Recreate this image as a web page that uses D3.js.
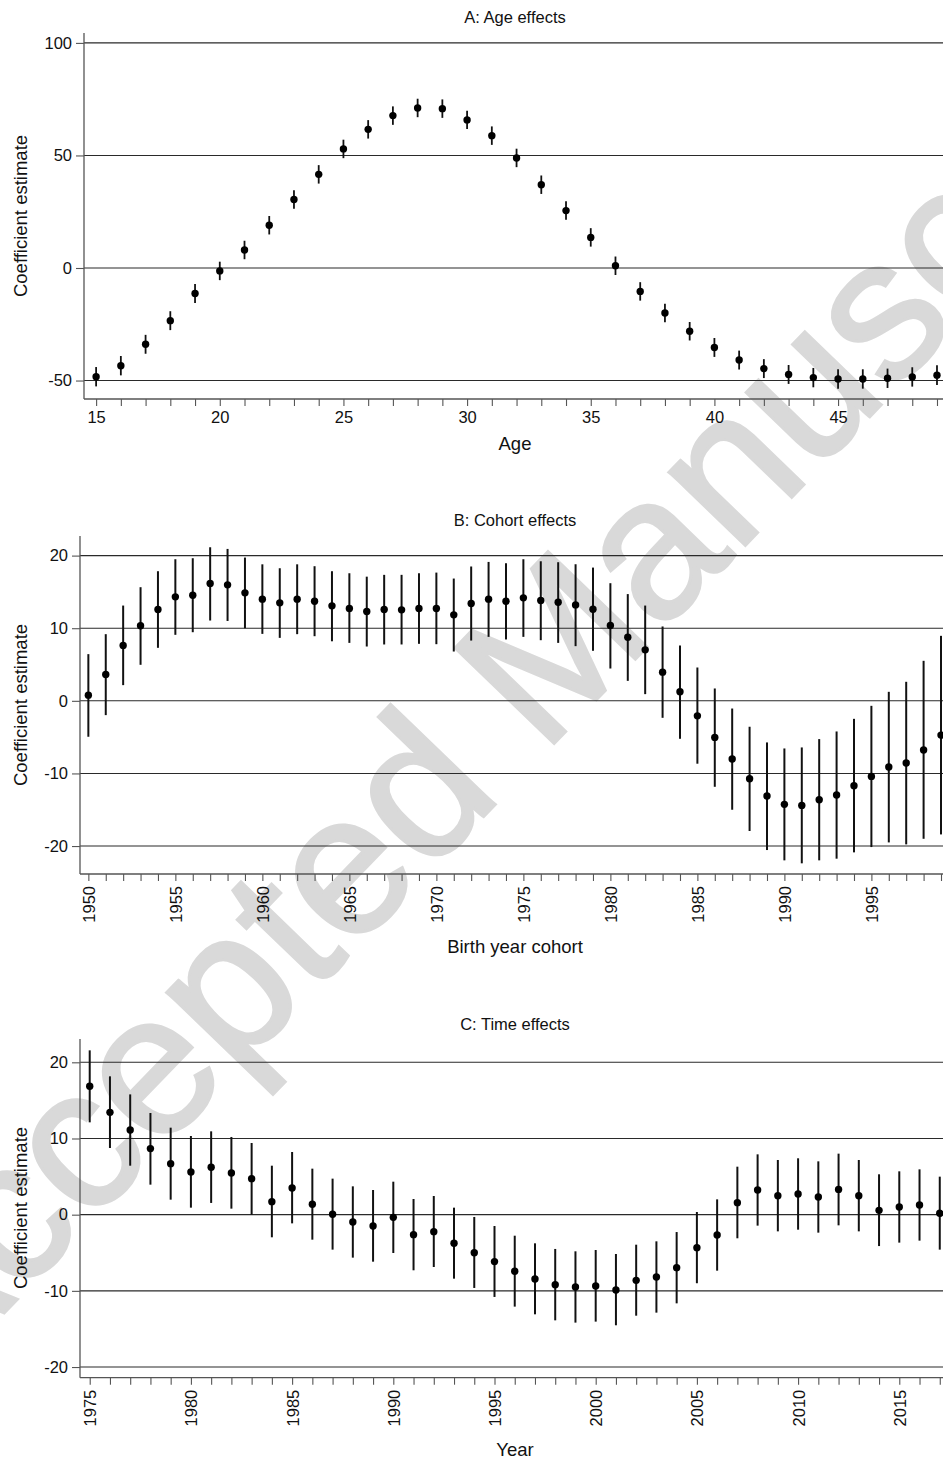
<!DOCTYPE html>
<html><head><meta charset="utf-8">
<script src="https://cdn.jsdelivr.net/npm/d3@7"></script>
<style>body{margin:0;background:#fff}svg{display:block}</style>
</head><body><svg id="chart" width="943" height="1459"></svg>
<script>
// ---------- DATA ----------
const ageCats = [15,16,17,18,19,20,21,22,23,24,25,26,27,28,29,30,31,32,33,34,35,36,37,38,39,40,41,42,43,44,45,46,47,48,49];
const ageEst = [-48.3,-43.4,-33.9,-23.4,-11.3,-1.3,8.0,19.0,30.4,41.6,52.9,61.6,67.7,71.1,70.8,65.8,
  58.8,48.9,37.0,25.5,13.6,1.0,-10.4,-20.0,-28.1,-35.3,-40.9,-44.7,-47.3,-48.7,-49.3,-49.3,-49.0,-48.4,-47.6];
const ageHalf = [4.3,4.3,4.2,4.2,4.2,4.1,4.1,4.1,4.1,4.1,4.1,4.1,4.1,4.1,4.1,4.1,4.1,4.1,4.1,4.1,4.1,4.1,4.1,4.1,4.1,4.2,4.2,4.2,4.2,4.3,4.3,4.3,4.3,4.3,4.4];
const ageLo = ageEst.map((v,i)=>v-ageHalf[i]);
const ageHi = ageEst.map((v,i)=>v+ageHalf[i]);

const cohortCats = [1950,1951,1952,1953,1954,1955,1956,1957,1958,1959,1960,1961,1962,1963,1964,1965,1966,1967,1968,1969,
  1970,1971,1972,1973,1974,1975,1976,1977,1978,1979,1980,1981,1982,1983,1984,1985,1986,1987,1988,1989,
  1990,1991,1992,1993,1994,1995,1996,1997,1998,1999];
const cohortEst = [0.78,3.63,7.62,10.33,12.57,14.32,14.55,16.15,15.97,14.87,
  14.0,13.49,14.0,13.72,13.08,12.71,12.3,12.57,12.53,12.71,
  12.71,11.84,13.4,14.0,13.72,14.18,13.81,13.58,13.21,12.62,
  10.37,8.77,7.02,3.95,1.24,-2.07,-5.04,-8.02,-10.73,-13.11,
  -14.26,-14.4,-13.62,-12.98,-11.69,-10.41,-9.12,-8.57,-6.78,-4.72];
const cohortHi = [6.43,9.18,13.12,15.65,17.85,19.5,19.64,21.15,20.92,19.73,
  18.8,18.26,18.8,18.54,17.85,17.57,17.1,17.35,17.35,17.57,
  17.66,16.84,18.5,19.13,18.95,19.5,19.22,19.09,18.81,18.35,
  16.2,14.7,13.12,10.24,7.62,4.59,1.70,-1.06,-3.57,-5.73,
  -6.56,-6.42,-5.27,-4.22,-2.48,-0.69,1.24,2.62,5.51,8.95];
const cohortLo = [-4.95,-1.97,2.16,4.96,7.30,9.09,9.45,11.06,11.0,10.0,
  9.22,8.67,9.18,8.9,8.2,7.98,7.48,7.76,7.76,7.85,
  7.8,6.79,8.3,8.81,8.45,8.81,8.35,7.98,7.53,6.89,
  4.45,2.75,0.92,-2.34,-5.23,-8.66,-11.84,-15.0,-17.93,-20.55,
  -21.97,-22.38,-21.97,-21.74,-20.87,-20.14,-19.5,-19.77,-19.0,-18.4];

const timeCats = [1975,1976,1977,1978,1979,1980,1981,1982,1983,1984,1985,1986,1987,1988,1989,1990,1991,1992,1993,1994,
  1995,1996,1997,1998,1999,2000,2001,2002,2003,2004,2005,2006,2007,2008,2009,2010,2011,2012,2013,2014,2015,2016,2017];
const timeEst = [16.85,13.43,11.11,8.67,6.70,5.60,6.22,5.47,4.73,1.71,
  3.50,1.36,0.05,-0.96,-1.49,-0.35,-2.62,-2.23,-3.76,-4.99,
  -6.16,-7.43,-8.44,-9.19,-9.49,-9.36,-9.89,-8.62,-8.18,-6.96,
  -4.33,-2.67,1.58,3.24,2.49,2.71,2.32,3.32,2.49,0.57,
  1.01,1.27,0.18];
const timeHi = [21.57,18.16,15.79,13.35,11.42,10.33,10.94,10.2,9.41,6.43,
  8.23,6.04,4.73,3.72,3.24,4.33,2.06,2.45,0.92,-0.3,
  -1.49,-2.76,-3.76,-4.5,-4.81,-4.64,-5.16,-3.94,-3.5,-2.28,
  0.35,2.01,6.3,7.92,7.18,7.4,7.0,8.01,7.18,5.3,
  5.69,5.95,4.99];
const timeLo = [12.12,8.75,6.43,3.94,1.97,0.92,1.54,0.79,0.0,-2.97,
  -1.14,-3.28,-4.59,-5.64,-6.17,-5.03,-7.3,-6.87,-8.4,-9.62,
  -10.8,-12.07,-13.08,-13.87,-14.17,-14.04,-14.52,-13.26,-12.86,-11.64,
  -9.0,-7.35,-3.1,-1.44,-2.19,-1.97,-2.36,-1.4,-2.19,-4.12,
  -3.67,-3.41,-4.59];

const ageYTicks = [-50,0,50,100];
const cohortYTicks = [-20,-10,0,10,20];
const timeYTicks = [-20,-10,0,10,20];
const ageXLabels = [15,20,25,30,35,40,45];
const cohortXLabels = [1950,1955,1960,1965,1970,1975,1980,1985,1990,1995];
const timeXLabels = [1975,1980,1985,1990,1995,2000,2005,2010,2015];

// ---------- DRAW ----------
const W = 943;
const FONT = "'Liberation Sans', Arial, Helvetica, sans-serif";
const svg = d3.select("#chart");

// watermark (behind everything)
svg.append("text")
  .attr("transform", "translate(-75,1395) rotate(-46)")
  .attr("font-family", FONT).attr("font-size", 200)
  .attr("fill", "#d9d9d9").attr("stroke", "#d9d9d9").attr("stroke-width", 3)
  .text("Accepted Manuscript");

const panels = [
  {title:"A: Age effects", titleY:23, xTitle:"Age", xTitleY:450,
   cats:ageCats, est:ageEst, lo:ageLo, hi:ageHi, yTicks:ageYTicks, xLabels:ageXLabels,
   xDom:[14.51,49.7], xRange:[84,954.3], yDom:[-58.2,104.4], yRange:[399,33],
   rotate:false, yLabelCenter:216, barW:1.8},
  {title:"B: Cohort effects", titleY:526, xTitle:"Birth year cohort", xTitleY:953,
   cats:cohortCats, est:cohortEst, lo:cohortLo, hi:cohortHi, yTicks:cohortYTicks, xLabels:cohortXLabels,
   xDom:[1949.52,2000], xRange:[80,958.4], yDom:[-23.85,22.7], yRange:[874,536],
   rotate:true, yLabelCenter:705, barW:2},
  {title:"C: Time effects", titleY:1030, xTitle:"Year", xTitleY:1456,
   cats:timeCats, est:timeEst, lo:timeLo, hi:timeHi, yTicks:timeYTicks, xLabels:timeXLabels,
   xDom:[1974.52,2018], xRange:[80,960], yDom:[-21.4,23.06], yRange:[1377.7,1039],
   rotate:true, yLabelCenter:1208, barW:2}
];

panels.forEach(p => {
  const x = d3.scaleLinear().domain(p.xDom).range(p.xRange);
  const y = d3.scaleLinear().domain(p.yDom).range(p.yRange);
  const g = svg.append("g");
  const x0 = p.xRange[0], yb = p.yRange[0], yt = p.yRange[1];

  // title
  g.append("text").attr("x", 515).attr("y", p.titleY).attr("text-anchor","middle")
    .attr("font-family", FONT).attr("font-size", 16.5).attr("fill","#111").text(p.title);

  // gridlines
  g.selectAll("line.grid").data(p.yTicks).join("line").attr("class","grid")
    .attr("x1", x0).attr("x2", W).attr("y1", d=>y(d)).attr("y2", d=>y(d))
    .attr("stroke","#2a2a2a").attr("stroke-width",1.1);

  // y axis
  const yAxis = d3.axisLeft(y).tickValues(p.yTicks).tickSize(8).tickPadding(4).tickFormat(d => String(d));
  const ya = g.append("g").attr("transform",`translate(${x0},0)`).call(yAxis);
  ya.select(".domain").attr("d", `M0,${yt}V${yb}`).attr("stroke","#555").attr("stroke-width",1.3);
  ya.selectAll(".tick line").attr("stroke","#555").attr("stroke-width",1.1);
  ya.selectAll(".tick text").attr("font-family",FONT).attr("font-size",16.5).attr("fill","#111");

  // x axis
  const allTicks = p.cats.filter(c => x(c) <= W);
  const xAxis = d3.axisBottom(x).tickValues(allTicks).tickSize(7).tickPadding(4)
    .tickFormat(d => p.xLabels.includes(d) ? String(d) : "");
  const xa = g.append("g").attr("transform",`translate(0,${yb})`).call(xAxis);
  xa.select(".domain").attr("d", `M${x0},0H${W}`).attr("stroke","#555").attr("stroke-width",1.3);
  xa.selectAll(".tick line").attr("stroke","#555").attr("stroke-width",1.1);
  const tt = xa.selectAll(".tick text").attr("font-family",FONT).attr("font-size",16.5).attr("fill","#111");
  if (p.rotate) {
    tt.attr("transform","rotate(-90)").attr("text-anchor","end")
      .attr("x",-12).attr("y",0).attr("dy","0.36em");
  } else {
    tt.attr("y", 12);
  }

  // axis titles
  g.append("text").attr("x",515).attr("y",p.xTitleY).attr("text-anchor","middle")
    .attr("font-family",FONT).attr("font-size",18.5).attr("fill","#111").text(p.xTitle);
  g.append("text").attr("transform",`translate(27,${p.yLabelCenter}) rotate(-90)`)
    .attr("text-anchor","middle").attr("font-family",FONT).attr("font-size",18.5)
    .attr("fill","#111").text("Coefficient estimate");

  // error bars and points
  const data = p.cats.map((c,i)=>({c, e:p.est[i], lo:p.lo[i], hi:p.hi[i]}));
  g.selectAll("line.ci").data(data).join("line").attr("class","ci")
    .attr("x1",d=>x(d.c)).attr("x2",d=>x(d.c)).attr("y1",d=>y(d.lo)).attr("y2",d=>y(d.hi))
    .attr("stroke","#111").attr("stroke-width",p.barW);
  g.selectAll("circle.pt").data(data).join("circle").attr("class","pt")
    .attr("cx",d=>x(d.c)).attr("cy",d=>y(d.e)).attr("r",3.7).attr("fill","#000");
});
</script>
</body></html>
